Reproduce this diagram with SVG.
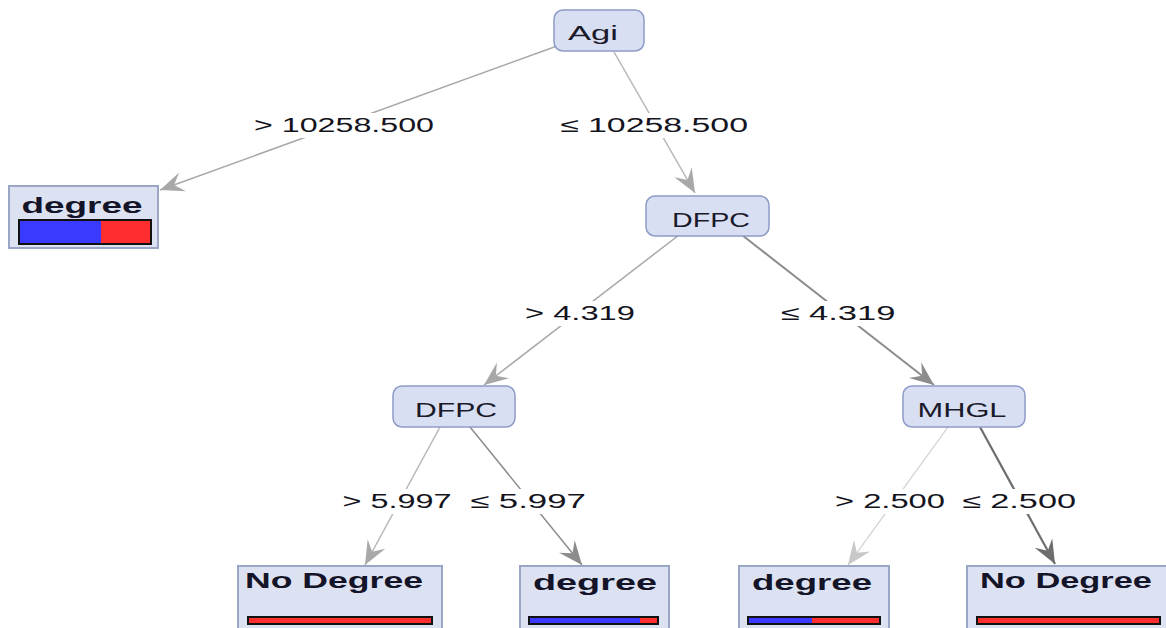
<svg xmlns="http://www.w3.org/2000/svg" width="1166" height="628" viewBox="0 0 1166 628">
  <style>
    .split rect { fill: #d9dff3; stroke: #8d9cc6; stroke-width: 1.5; }
    .leaf > rect.box { fill: #dde2f3; stroke: #9aa6c6; stroke-width: 2; }
    .split text { font-family: "Liberation Sans", Arial, sans-serif; font-size: 21px; fill: #1a1a2a; text-anchor: middle; }
    .leaf text { font-family: "Liberation Sans", Arial, sans-serif; font-size: 22px; font-weight: bold; fill: #141428; text-anchor: middle; }
    .bar { stroke: #111; stroke-width: 2; }
    .edge { fill: none; }
    .lbl rect { fill: #ffffff; }
    .lbl text { font-family: "Liberation Sans", Arial, sans-serif; font-size: 20px; fill: #141420; text-anchor: middle; }
  </style>
  <defs>
    <marker id="ah" viewBox="-26 -12 28 24" refX="0" refY="0" markerWidth="28" markerHeight="24" markerUnits="userSpaceOnUse" orient="auto">
      <path d="M0,0 L-24,-10 L-15,0 L-24,10 Z" fill="context-stroke"/>
    </marker>
    <marker id="ahL" viewBox="-26 -12 28 24" refX="0" refY="0" markerWidth="28" markerHeight="24" markerUnits="userSpaceOnUse" orient="auto">
      <path d="M0,0 L-24,-10 L-15,0 L-24,10 Z" fill="#a8a8a8"/>
    </marker>
    <marker id="ahM" viewBox="-26 -12 28 24" refX="0" refY="0" markerWidth="28" markerHeight="24" markerUnits="userSpaceOnUse" orient="auto">
      <path d="M0,0 L-24,-10 L-15,0 L-24,10 Z" fill="#8c8c8c"/>
    </marker>
    <marker id="ahP" viewBox="-26 -12 28 24" refX="0" refY="0" markerWidth="28" markerHeight="24" markerUnits="userSpaceOnUse" orient="auto">
      <path d="M0,0 L-24,-10 L-15,0 L-24,10 Z" fill="#c8c8c8"/>
    </marker>
    <marker id="ahD" viewBox="-26 -12 28 24" refX="0" refY="0" markerWidth="28" markerHeight="24" markerUnits="userSpaceOnUse" orient="auto">
      <path d="M0,0 L-24,-10 L-15,0 L-24,10 Z" fill="#6e6e6e"/>
    </marker>
  </defs>

  <rect x="0" y="0" width="1166" height="628" fill="#ffffff"/>

  <!-- connectors -->
  <g id="connectors">
    <line class="edge" x1="557" y1="46" x2="160" y2="190" stroke="#a8a8a8" stroke-width="1.5" marker-end="url(#ahL)"/>
    <line class="edge" x1="614" y1="52" x2="695" y2="193" stroke="#b4b4b4" stroke-width="1.5" marker-end="url(#ahL)"/>
    <line class="edge" x1="679" y1="235" x2="484" y2="385" stroke="#a8a8a8" stroke-width="1.5" marker-end="url(#ahL)"/>
    <line class="edge" x1="742" y1="235" x2="934" y2="385" stroke="#8c8c8c" stroke-width="2" marker-end="url(#ahM)"/>
    <line class="edge" x1="440" y1="427" x2="365" y2="565" stroke="#b8b8b8" stroke-width="1.5" marker-end="url(#ahL)"/>
    <line class="edge" x1="470" y1="427" x2="582" y2="565" stroke="#8c8c8c" stroke-width="1.5" marker-end="url(#ahM)"/>
    <line class="edge" x1="948" y1="427" x2="848" y2="565" stroke="#cfcfcf" stroke-width="1.2" marker-end="url(#ahP)"/>
    <line class="edge" x1="980" y1="427" x2="1055" y2="564" stroke="#6e6e6e" stroke-width="2.2" marker-end="url(#ahD)"/>

    <g class="lbl">
      <rect x="250" y="113" width="188" height="25"/>
      <text x="344" y="132" textLength="180" lengthAdjust="spacingAndGlyphs">&gt; 10258.500</text>
      <rect x="558" y="113" width="192" height="25"/>
      <text x="654" y="132" textLength="188" lengthAdjust="spacingAndGlyphs">≤ 10258.500</text>
      <rect x="522" y="301" width="116" height="25"/>
      <text x="580" y="320" textLength="110" lengthAdjust="spacingAndGlyphs">&gt; 4.319</text>
      <rect x="778" y="301" width="120" height="25"/>
      <text x="838" y="320" textLength="115" lengthAdjust="spacingAndGlyphs">≤ 4.319</text>
      <rect x="340" y="489" width="115" height="25"/>
      <text x="397" y="508" textLength="109" lengthAdjust="spacingAndGlyphs">&gt; 5.997</text>
      <rect x="468" y="489" width="120" height="25"/>
      <text x="528" y="508" textLength="116" lengthAdjust="spacingAndGlyphs">≤ 5.997</text>
      <rect x="832" y="489" width="116" height="25"/>
      <text x="890" y="508" textLength="110" lengthAdjust="spacingAndGlyphs">&gt; 2.500</text>
      <rect x="960" y="489" width="118" height="25"/>
      <text x="1019" y="508" textLength="114" lengthAdjust="spacingAndGlyphs">≤ 2.500</text>
    </g>
  </g>

  <!-- split nodes -->
  <g id="node-agi" class="split">
    <rect x="554" y="10" width="90" height="41" rx="9"/>
    <text x="593" y="40" textLength="50" lengthAdjust="spacingAndGlyphs">Agi</text>
  </g>
  <g id="node-dfpc-1" class="split">
    <rect x="646" y="196" width="123" height="40" rx="9"/>
    <text x="711" y="227" textLength="78" lengthAdjust="spacingAndGlyphs">DFPC</text>
  </g>
  <g id="node-dfpc-2" class="split">
    <rect x="393" y="386" width="122" height="41" rx="9"/>
    <text x="456" y="417" textLength="82" lengthAdjust="spacingAndGlyphs">DFPC</text>
  </g>
  <g id="node-mhgl" class="split">
    <rect x="903" y="386" width="122" height="41" rx="9"/>
    <text x="962" y="417" textLength="89" lengthAdjust="spacingAndGlyphs">MHGL</text>
  </g>

  <!-- leaf nodes -->
  <g id="leaf-degree-1" class="leaf">
    <rect class="box" x="9" y="186" width="149" height="62"/>
    <text x="82" y="213" textLength="121" lengthAdjust="spacingAndGlyphs">degree</text>
    <rect x="19" y="220" width="82" height="24" fill="#3a3aff"/>
    <rect x="101" y="220" width="50" height="24" fill="#ff2e2e"/>
    <rect class="bar" x="19" y="220" width="132" height="24" fill="none"/>
  </g>
  <g id="leaf-nodegree-1" class="leaf">
    <rect class="box" x="238" y="566" width="204" height="70"/>
    <text x="334" y="588" textLength="178" lengthAdjust="spacingAndGlyphs">No Degree</text>
    <rect class="bar" x="248" y="617" width="184" height="7" fill="#ff2e2e"/>
  </g>
  <g id="leaf-degree-2" class="leaf">
    <rect class="box" x="520" y="566" width="149" height="70"/>
    <text x="595" y="590" textLength="124" lengthAdjust="spacingAndGlyphs">degree</text>
    <rect x="529" y="617" width="111" height="7" fill="#3a3aff"/>
    <rect x="640" y="617" width="18" height="7" fill="#ff2e2e"/>
    <rect class="bar" x="529" y="617" width="129" height="7" fill="none"/>
  </g>
  <g id="leaf-degree-3" class="leaf">
    <rect class="box" x="739" y="566" width="150" height="70"/>
    <text x="812" y="590" textLength="120" lengthAdjust="spacingAndGlyphs">degree</text>
    <rect x="748" y="617" width="64" height="7" fill="#3a3aff"/>
    <rect x="812" y="617" width="68" height="7" fill="#ff2e2e"/>
    <rect class="bar" x="748" y="617" width="132" height="7" fill="none"/>
  </g>
  <g id="leaf-nodegree-2" class="leaf">
    <rect class="box" x="967" y="566" width="210" height="70"/>
    <text x="1066" y="588" textLength="172" lengthAdjust="spacingAndGlyphs">No Degree</text>
    <rect class="bar" x="977" y="617" width="183" height="7" fill="#ff2e2e"/>
  </g>
</svg>
